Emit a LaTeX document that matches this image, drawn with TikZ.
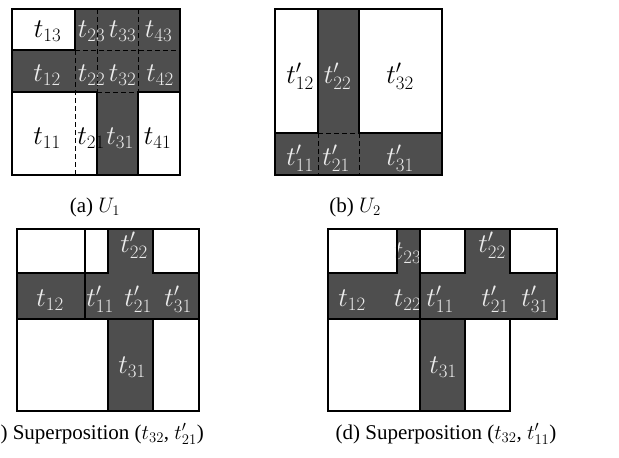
\RequirePackage{fix-cm}
\documentclass[tikz,border=0pt]{standalone}
\usepackage[no-math]{fontspec}
\setmainfont{Liberation Serif}
\definecolor{cellgray}{RGB}{78,78,78}
\definecolor{lighttext}{RGB}{235,235,235}
\begin{document}
\begin{tikzpicture}[x=1pt,y=-1pt,
  thickline/.style={line width=2.6pt,line cap=rect,line join=miter},
  dashline/.style={line width=0.7pt,dash pattern=on 5pt off 3pt},
  lbl/.style={inner sep=0pt,anchor=base,font=\fontsize{27}{30}\selectfont},
  wlbl/.style={lbl,text=lighttext},
  captext/.style={inner sep=0pt,anchor=base,font=\fontsize{21}{25}\selectfont}]
\useasboundingbox (0,0) rectangle (619,458);
% ---------- (a) ----------
\fill[cellgray] (75,9) rectangle (180,50);
\fill[cellgray] (12,50) rectangle (180,92);
\fill[cellgray] (97,92) rectangle (138,175);
\draw[dashline] (75,50) -- (75,175);
\draw[dashline] (97,9) -- (97,92);
\draw[dashline] (138,9) -- (138,92);
\draw[dashline] (75,50) -- (180,50);
\draw[dashline] (97,92) -- (138,92);
\node[lbl]  (a13) at (47.5,37) {$t_{13}$};
\node[wlbl] (a23) at (91.5,37) {$t_{23}$};
\node[wlbl] (a33) at (122.5,37) {$t_{33}$};
\node[wlbl] (a43) at (158.5,37) {$t_{43}$};
\node[wlbl] (a12) at (47,81) {$t_{12}$};
\node[wlbl] (a22) at (91.5,81) {$t_{22}$};
\node[wlbl] (a32) at (122.5,81) {$t_{32}$};
\node[wlbl] (a42) at (160,81) {$t_{42}$};
\node[lbl]  (a11) at (47,144) {$t_{11}$};
\node[lbl]  (a21) at (91,144) {$t_{21}$};
\node[wlbl] (a31) at (120,144) {$t_{31}$};
\node[lbl]  (a41) at (157.5,144) {$t_{41}$};
\draw[thickline] (12,50) -- (75,50) -- (75,9);
\draw[thickline] (12,92) -- (97,92) -- (97,175);
\draw[thickline] (138,175) -- (138,92) -- (180,92);
\draw[thickline] (12,9) rectangle (180,175);
\node[captext] (capa) at (95,212) {(a) $U_1$};
% ---------- (b) ----------
\fill[cellgray] (318,9) rectangle (359,175);
\fill[cellgray] (275,133) rectangle (442,175);
\draw[dashline] (318,133) -- (359,133);
\draw[dashline] (318,133) -- (318,175);
\draw[dashline] (359,133) -- (359,175);
\node[lbl]  (b12) at (300,83) {$t'_{12}$};
\node[wlbl] (b22) at (337.5,83) {$t'_{22}$};
\node[lbl]  (b32) at (400,83) {$t'_{32}$};
\node[wlbl] (b11) at (300,165) {$t'_{11}$};
\node[wlbl] (b21) at (336,165) {$t'_{21}$};
\node[wlbl] (b31) at (400,165) {$t'_{31}$};
\draw[thickline] (275,133) -- (318,133) -- (318,9);
\draw[thickline] (359,9) -- (359,133) -- (442,133);
\draw[thickline] (275,9) rectangle (442,175);
\node[captext] (capb) at (355,212) {(b) $U_2$};
% ---------- (c) ----------
\fill[cellgray] (108,229) rectangle (153,273);
\fill[cellgray] (17,273) rectangle (199,319);
\fill[cellgray] (108,319) rectangle (153,411);
\node[wlbl] (c22) at (134,252) {$t'_{22}$};
\node[wlbl] (c12) at (50,306) {$t_{12}$};
\node[wlbl] (c11) at (100,306) {$t'_{11}$};
\node[wlbl] (c21) at (138,306) {$t'_{21}$};
\node[wlbl] (c31) at (178,306) {$t'_{31}$};
\node[wlbl] (c31b) at (132,373) {$t_{31}$};
\draw[thickline] (17,273) -- (108,273) -- (108,229);
\draw[thickline] (153,229) -- (153,273) -- (199,273);
\draw[thickline] (85,229) -- (85,319);
\draw[thickline] (17,319) -- (199,319);
\draw[thickline] (108,319) -- (108,411);
\draw[thickline] (153,319) -- (153,411);
\draw[thickline] (17,229) rectangle (199,411);
\node[captext] (capc) at (94,439) {(c) Superposition ($t_{32}$, $t'_{21}$)};
% ---------- (d) ----------
\fill[cellgray] (397,229) rectangle (420,273);
\fill[cellgray] (465,229) rectangle (510,273);
\fill[cellgray] (328,273) rectangle (557,319);
\fill[cellgray] (420,319) rectangle (465,411);
\node[wlbl] (d23) at (407.5,259) {$t_{23}$};
\node[wlbl] (d22p) at (492,252) {$t'_{22}$};
\node[wlbl] (d12) at (352,306) {$t_{12}$};
\node[wlbl] (d22) at (407.5,306) {$t_{22}$};
\node[wlbl] (d11) at (440,306) {$t'_{11}$};
\node[wlbl] (d21) at (495,306) {$t'_{21}$};
\node[wlbl] (d31) at (535,306) {$t'_{31}$};
\node[wlbl] (d31b) at (443,373) {$t_{31}$};
\draw[thickline] (328,273) -- (397,273) -- (397,229);
\draw[thickline] (420,229) -- (420,411);
\draw[thickline] (420,273) -- (465,273) -- (465,229);
\draw[thickline] (510,229) -- (510,273) -- (557,273);
\draw[thickline] (328,319) -- (557,319);
\draw[thickline] (465,319) -- (465,411);
\draw[thickline] (328,229) -- (557,229) -- (557,319) -- (510,319) -- (510,411) -- (328,411) -- cycle;
\node[captext] (capd) at (446,439) {(d) Superposition ($t_{32}$, $t'_{11}$)};
\end{tikzpicture}
\end{document}
